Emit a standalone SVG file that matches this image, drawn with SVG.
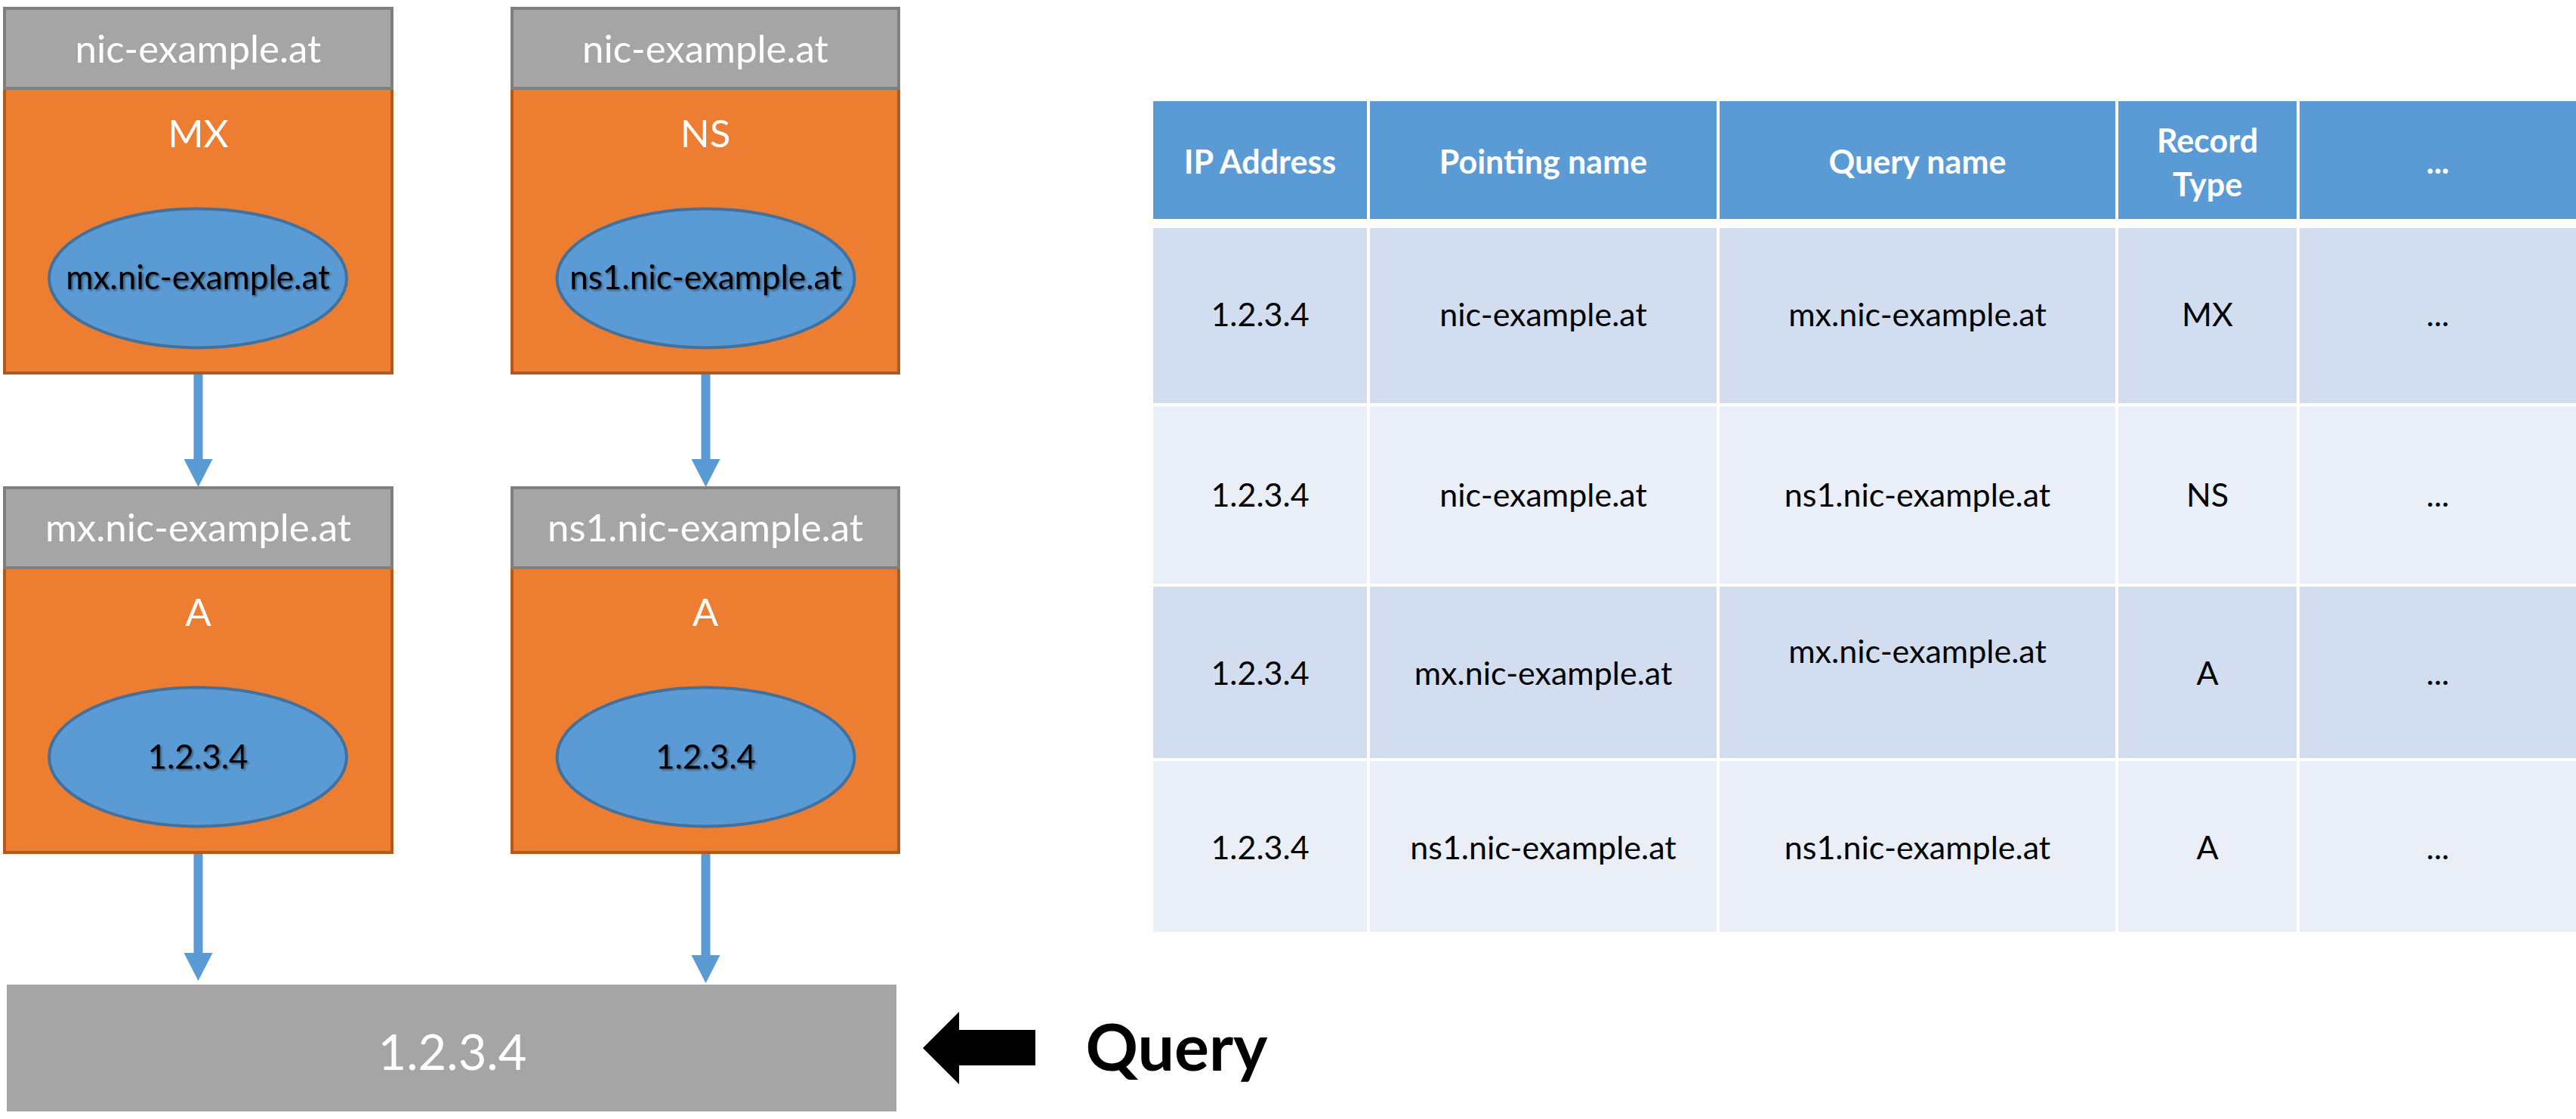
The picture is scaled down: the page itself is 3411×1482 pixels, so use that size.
<svg xmlns="http://www.w3.org/2000/svg" width="3411" height="1482" viewBox="0 0 3411 1482">
<style>
  text { font-family: Lato, "Liberation Sans", sans-serif; text-anchor: middle; }
  .hdr { fill: #a5a5a5; stroke: #7f7f7f; stroke-width: 4; }
  .body { fill: #ed7d31; stroke: #ae5a21; stroke-width: 4; }
  .ell { fill: #5b9bd5; stroke: #41719c; stroke-width: 4; }
  .wt { fill: #ffffff; font-size: 51px; }
  .et { fill: #000000; font-size: 44px; filter: url(#sh); }
  .conn { stroke: #5b9bd5; stroke-width: 12; fill: none; marker-end: url(#ah); }
  .th { fill: #5b9bd5; }
  .r1 { fill: #d2deef; }
  .r2 { fill: #eaeff7; }
  .tht { fill: #ffffff; font-size: 43px; font-weight: bold; }
  .tdt { fill: #000000; font-size: 43px; }
</style>
<defs>
  <marker id="ah" markerUnits="userSpaceOnUse" viewBox="0 -19 37 38" refX="0" refY="0" markerWidth="37" markerHeight="38" orient="auto">
    <path d="M0,-19 L37,0 L0,19 z" fill="#5b9bd5"/>
  </marker>
  <filter id="sh" x="-10%" y="-30%" width="120%" height="160%">
    <feDropShadow dx="2" dy="2" stdDeviation="1.5" flood-color="#000" flood-opacity="0.45"/>
  </filter>
</defs>
<rect width="3411" height="1482" fill="#ffffff"/>

<g id="connectors">
  <line class="conn" x1="262.5" y1="496" x2="262.5" y2="608"/>
  <line class="conn" x1="934.5" y1="496" x2="934.5" y2="608"/>
  <line class="conn" x1="262.5" y1="1131" x2="262.5" y2="1262"/>
  <line class="conn" x1="934.5" y1="1131" x2="934.5" y2="1265"/>
</g>

<g id="node-mx-record">
  <rect class="body" x="6" y="117" width="513" height="377"/>
  <rect class="hdr" x="6" y="11" width="513" height="106"/>
  <text class="wt" x="262.5" y="83">nic-example.at</text>
  <text class="wt" x="262.5" y="195">MX</text>
  <ellipse class="ell" cx="262" cy="368.5" rx="197" ry="92"/>
  <text class="et" x="262" y="383">mx.nic-example.at</text>
</g>

<g id="node-ns-record">
  <rect class="body" x="678" y="117" width="512" height="377"/>
  <rect class="hdr" x="678" y="11" width="512" height="106"/>
  <text class="wt" x="934" y="83">nic-example.at</text>
  <text class="wt" x="934" y="195">NS</text>
  <ellipse class="ell" cx="934.5" cy="368.5" rx="197" ry="92"/>
  <text class="et" x="934.5" y="383">ns1.nic-example.at</text>
</g>

<g id="node-mx-a">
  <rect class="body" x="6" y="752" width="513" height="377"/>
  <rect class="hdr" x="6" y="646" width="513" height="106"/>
  <text class="wt" x="262.5" y="717">mx.nic-example.at</text>
  <text class="wt" x="262.5" y="829">A</text>
  <ellipse class="ell" cx="262" cy="1002.5" rx="197" ry="92"/>
  <text class="et" x="262" y="1018">1.2.3.4</text>
</g>

<g id="node-ns-a">
  <rect class="body" x="678" y="752" width="512" height="377"/>
  <rect class="hdr" x="678" y="646" width="512" height="106"/>
  <text class="wt" x="934" y="717">ns1.nic-example.at</text>
  <text class="wt" x="934" y="829">A</text>
  <ellipse class="ell" cx="934.5" cy="1002.5" rx="197" ry="92"/>
  <text class="et" x="934.5" y="1018">1.2.3.4</text>
</g>

<g id="node-ip">
  <rect x="9" y="1304" width="1178" height="168" fill="#a5a5a5"/>
  <text x="599" y="1417" fill="#ffffff" font-size="65">1.2.3.4</text>
</g>

<g id="node-query">
  <polygon points="1222,1388 1270,1340 1270,1364 1371,1364 1371,1411 1270,1411 1270,1436" fill="#000000"/>
  <text x="1558" y="1418" font-size="86" font-weight="bold" fill="#000000">Query</text>
</g>

<g id="table">
  <rect class="th" x="1527" y="134" width="283" height="156"/>
  <rect class="th" x="1814" y="134" width="459" height="156"/>
  <rect class="th" x="2277" y="134" width="524" height="156"/>
  <rect class="th" x="2805" y="134" width="236" height="156"/>
  <rect class="th" x="3045" y="134" width="366" height="156"/>
  <text class="tht" x="1668.5" y="230">IP Address</text>
  <text class="tht" x="2043.5" y="230">Pointing name</text>
  <text class="tht" x="2539" y="230">Query name</text>
  <text class="tht" x="2923" y="202">Record</text>
  <text class="tht" x="2923" y="260">Type</text>
  <text class="tht" x="3228" y="230">...</text>

  <rect class="r1" x="1527" y="302" width="283" height="232"/>
  <rect class="r1" x="1814" y="302" width="459" height="232"/>
  <rect class="r1" x="2277" y="302" width="524" height="232"/>
  <rect class="r1" x="2805" y="302" width="236" height="232"/>
  <rect class="r1" x="3045" y="302" width="366" height="232"/>
  <text class="tdt" x="1668.5" y="432">1.2.3.4</text>
  <text class="tdt" x="2043.5" y="432">nic-example.at</text>
  <text class="tdt" x="2539" y="432">mx.nic-example.at</text>
  <text class="tdt" x="2923" y="432">MX</text>
  <text class="tdt" x="3228" y="432">...</text>

  <rect class="r2" x="1527" y="538" width="283" height="235"/>
  <rect class="r2" x="1814" y="538" width="459" height="235"/>
  <rect class="r2" x="2277" y="538" width="524" height="235"/>
  <rect class="r2" x="2805" y="538" width="236" height="235"/>
  <rect class="r2" x="3045" y="538" width="366" height="235"/>
  <text class="tdt" x="1668.5" y="671">1.2.3.4</text>
  <text class="tdt" x="2043.5" y="671">nic-example.at</text>
  <text class="tdt" x="2539" y="671">ns1.nic-example.at</text>
  <text class="tdt" x="2923" y="671">NS</text>
  <text class="tdt" x="3228" y="671">...</text>

  <rect class="r1" x="1527" y="777" width="283" height="227"/>
  <rect class="r1" x="1814" y="777" width="459" height="227"/>
  <rect class="r1" x="2277" y="777" width="524" height="227"/>
  <rect class="r1" x="2805" y="777" width="236" height="227"/>
  <rect class="r1" x="3045" y="777" width="366" height="227"/>
  <text class="tdt" x="1668.5" y="907">1.2.3.4</text>
  <text class="tdt" x="2043.5" y="907">mx.nic-example.at</text>
  <text class="tdt" x="2539" y="878">mx.nic-example.at</text>
  <text class="tdt" x="2923" y="907">A</text>
  <text class="tdt" x="3228" y="907">...</text>

  <rect class="r2" x="1527" y="1008" width="283" height="226"/>
  <rect class="r2" x="1814" y="1008" width="459" height="226"/>
  <rect class="r2" x="2277" y="1008" width="524" height="226"/>
  <rect class="r2" x="2805" y="1008" width="236" height="226"/>
  <rect class="r2" x="3045" y="1008" width="366" height="226"/>
  <text class="tdt" x="1668.5" y="1138">1.2.3.4</text>
  <text class="tdt" x="2043.5" y="1138">ns1.nic-example.at</text>
  <text class="tdt" x="2539" y="1138">ns1.nic-example.at</text>
  <text class="tdt" x="2923" y="1138">A</text>
  <text class="tdt" x="3228" y="1138">...</text>
</g>
</svg>
